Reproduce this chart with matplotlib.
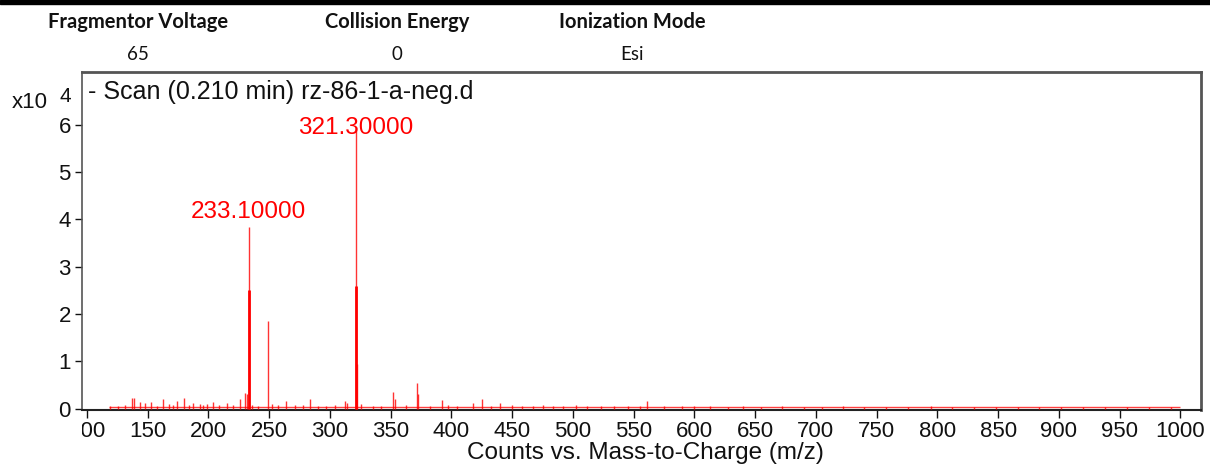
import matplotlib
matplotlib.use("Agg")
import matplotlib.pyplot as plt
from matplotlib.transforms import Bbox, TransformedBbox

# ---- data (intensity in units of 1e4 counts) ----
header_titles = ["Fragmentor Voltage", "Collision Energy", "Ionization Mode"]
header_values = ["65", "0", "Esi"]

scan_title = "- Scan (0.210 min) rz-86-1-a-neg.d"

peak_mz = [119, 126, 131, 137.5, 139, 143.7, 148, 152.7, 158, 163, 167.5, 171, 174,
           180, 184, 187, 193, 196, 199, 204, 209, 215, 220, 226, 230, 231.8, 233.1,
           236, 241, 249, 252, 257, 264, 271, 277.6, 284, 290, 297, 304, 312.5, 314,
           321.3, 322.3, 326, 335.6, 342, 352, 353.3, 363, 371.5, 372.6, 382.5, 392,
           397, 405, 418, 425, 433, 440, 450, 458, 467, 475.8, 484, 492, 503, 512,
           523, 534, 545, 555.5, 561, 575, 590, 600, 613, 628, 640, 655, 672, 690,
           705, 722, 740, 758, 776, 795, 812, 830, 848, 866, 884, 902, 920, 938,
           956, 974, 992]
peak_int = [0.05, 0.06, 0.07, 0.23, 0.22, 0.13, 0.11, 0.13, 0.06, 0.20, 0.09, 0.08, 0.15,
            0.23, 0.08, 0.12, 0.10, 0.07, 0.09, 0.13, 0.07, 0.11, 0.08, 0.20, 0.33, 0.30, 3.85,
            0.08, 0.06, 1.85, 0.10, 0.07, 0.17, 0.07, 0.08, 0.21, 0.06, 0.06, 0.07, 0.15, 0.12,
            5.95, 0.95, 0.09, 0.05, 0.06, 0.36, 0.20, 0.08, 0.55, 0.30, 0.05, 0.19,
            0.07, 0.05, 0.12, 0.20, 0.06, 0.12, 0.08, 0.06, 0.06, 0.07, 0.06, 0.05, 0.07, 0.05,
            0.05, 0.06, 0.05, 0.06, 0.15, 0.05, 0.05, 0.05, 0.06, 0.04, 0.05, 0.04, 0.05, 0.04,
            0.04, 0.05, 0.04, 0.04, 0.04, 0.05, 0.04, 0.04, 0.04, 0.04, 0.04, 0.04, 0.04, 0.04,
            0.04, 0.04, 0.04]

# solid lower core of the strongest profile peaks
core_mz = [233.1, 321.3]
core_int = [2.5, 2.6]

# baseline trace
baseline_mz = [118, 1000]
baseline_int = [0.025, 0.025]

labels_mz = [233.1, 321.3]
labels_txt = ["233.10000", "321.30000"]
labels_y = [4.15, 5.93]   # text centre height

x_ticks = list(range(100, 1001, 50))
y_ticks = [0, 1, 2, 3, 4, 5, 6]

RED = "#ff0000"
ARIAL = "Liberation Sans"

fig = plt.figure(figsize=(12.1, 4.67), dpi=100)
ax = fig.add_axes([82 / 1210, 1 - 410 / 467, (1201 - 82) / 1210, (410 - 72) / 467])

# black bar at top of the image
fig.patches.append(plt.Rectangle((0, 1 - 4 / 467), 1, 4 / 467, transform=fig.transFigure,
                                 color="black", zorder=0))

# header
hfont = ["Lato", "DejaVu Sans"]
for cx, t, v in zip([138, 397, 632], header_titles, header_values):
    fig.text(cx / 1210, 1 - 22 / 467, t, ha="center", va="center", fontsize=14.5,
             fontweight="bold", family=hfont, color="#111111")
    fig.text(cx / 1210, 1 - 54 / 467, v, ha="center", va="center", fontsize=13.5,
             family=hfont, color="#111111")

# spectrum
ax.plot(baseline_mz, baseline_int, color=RED, lw=1.0, alpha=0.75, solid_capstyle="butt", zorder=2)
ax.vlines(peak_mz, 0, peak_int, color=RED, lw=1.0, alpha=0.8, zorder=3)
ax.vlines(core_mz, 0, core_int, color=RED, lw=2.0, zorder=4)

for m, y, t in zip(labels_mz, labels_y, labels_txt):
    ax.text(m, y, t, ha="center", va="center", color=RED, fontsize=17.5, family=ARIAL)

ax.text(0.005, 0.94, scan_title, transform=ax.transAxes, ha="left", va="center",
        fontsize=18, family=ARIAL, color="#111111")

ax.set_xlim(96, 1017)
ax.set_ylim(-0.03, 7.12)
ax.set_xticks(x_ticks)
ax.set_xticklabels([str(t) for t in x_ticks])
ax.set_yticks(y_ticks)
ax.set_yticklabels([str(t) for t in y_ticks])
ax.tick_params(axis="both", direction="out", labelsize=16, colors="#111111")
ax.tick_params(axis="x", length=6, pad=2, width=1)
ax.tick_params(axis="y", length=5, pad=3, width=1)
for lab in ax.get_xticklabels() + ax.get_yticklabels():
    lab.set_family(ARIAL)

for side in ["left", "top", "right"]:
    ax.spines[side].set_color("#555555")
ax.spines["top"].set_linewidth(2)
ax.spines["right"].set_linewidth(2)
ax.spines["left"].set_linewidth(1.2)
ax.spines["bottom"].set_color("#222222")
ax.spines["bottom"].set_linewidth(1.5)

ax.set_xlabel("Counts vs. Mass-to-Charge (m/z)", fontsize=17.5, family=ARIAL, color="#111111")
ax.xaxis.set_label_coords((645 - 82) / 1119, -(442 - 410) / 338)

# multiplier label
fig.text(12 / 1210, 1 - 102 / 467, "x10", ha="left", va="center", fontsize=16,
         family=ARIAL, color="#111111")
fig.text(59 / 1210, 1 - 96 / 467, "4", ha="left", va="center", fontsize=15,
         family=ARIAL, color="#111111")

fig.canvas.draw()
# first x tick label is cut off at the axes' left edge
clip = TransformedBbox(Bbox([[82 / 1210, 0], [1, 1]]), fig.transFigure)
first = ax.get_xticklabels()[0]
first.set_clip_on(True)
first.set_clip_box(clip)

fig.savefig("out.png", dpi=100, facecolor="white")
